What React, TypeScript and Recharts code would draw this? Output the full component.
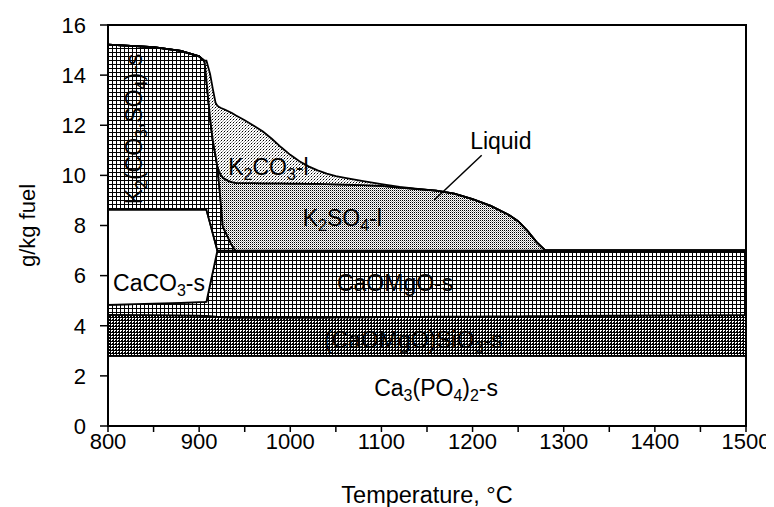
import { Area, AreaChart, ReferenceArea, ReferenceDot, ReferenceLine, XAxis, YAxis } from "recharts"

// temperature grid, °C
const temps = [
  800, 850, 880, 900, 906, 908, 912, 915, 918, 920, 922, 924, 926, 928, 932, 936, 940, 950, 960, 970, 980, 990,
  1000, 1010, 1020, 1030, 1040, 1050, 1060, 1080, 1100, 1120, 1140, 1160, 1180, 1200, 1220, 1240, 1250, 1260,
  1270, 1280, 1300, 1400, 1500,
]

// cumulative upper edge of each phase, g/kg fuel (bottom to top)
const ca3po42Top = temps.map(() => 2.8)
const silicateTop = [
  4.43, 4.42, 4.41, 4.4, 4.39, 4.39, 4.38, 4.37, 4.36, 4.35, 4.35, 4.35, 4.34, 4.34, 4.34, 4.33, 4.33, 4.33, 4.33,
  4.33, 4.33, 4.33, 4.33, 4.33, 4.33, 4.33, 4.33, 4.34, 4.34, 4.34, 4.35, 4.35, 4.35, 4.36, 4.36, 4.36, 4.37, 4.37,
  4.37, 4.38, 4.38, 4.38, 4.39, 4.41, 4.42,
]
const caoMgoTop = [
  4.83, 4.88, 4.91, 4.94, 4.95, 4.96, 5.64, 6.15, 6.66, 7, 7, 7, 7, 7, 7, 7, 7, 7, 7, 7, 7, 7, 7, 7, 7, 7, 7, 7, 7,
  7, 7, 7, 7, 7, 7, 7, 7, 7, 7, 7, 7, 7, 7, 7, 7,
]
const caco3Top = [
  8.63, 8.63, 8.63, 8.63, 8.63, 8.63, 8.09, 7.68, 7.27, 7, 7, 7, 7, 7, 7, 7, 7, 7, 7, 7, 7, 7, 7, 7, 7, 7, 7, 7, 7,
  7, 7, 7, 7, 7, 7, 7, 7, 7, 7, 7, 7, 7, 7, 7, 7,
]
const kSolidTop = [
  15.22, 15.12, 14.97, 14.75, 14.55, 13.8, 12.3, 11.4, 10.8, 10.35, 9.6, 8.8, 7.95, 7.8, 7.5, 7.2, 7, 7, 7, 7, 7, 7,
  7, 7, 7, 7, 7, 7, 7, 7, 7, 7, 7, 7, 7, 7, 7, 7, 7, 7, 7, 7, 7, 7, 7,
]
const k2so4Top = [
  15.22, 15.12, 14.97, 14.75, 14.55, 13.8, 12.3, 11.4, 10.8, 10.35, 10.15, 10.0, 9.92, 9.86, 9.78, 9.73, 9.7, 9.69,
  9.69, 9.68, 9.68, 9.68, 9.67, 9.67, 9.66, 9.66, 9.65, 9.64, 9.63, 9.61, 9.58, 9.51, 9.45, 9.39, 9.27, 9.05, 8.78,
  8.42, 8.17, 7.8, 7.35, 7, 7, 7, 7,
]
const k2co3Top = [
  15.22, 15.12, 14.97, 14.75, 14.58, 14.58, 14.05, 13.45, 12.9, 12.78, 12.73, 12.69, 12.66, 12.63, 12.56, 12.49,
  12.4, 12.2, 11.98, 11.75, 11.45, 11.12, 10.82, 10.56, 10.36, 10.2, 10.07, 9.97, 9.9, 9.77, 9.65, 9.54, 9.46, 9.39,
  9.27, 9.05, 8.78, 8.42, 8.17, 7.8, 7.35, 7, 7, 7, 7,
]

const xTicks = [800, 850, 900, 950, 1000, 1050, 1100, 1150, 1200, 1250, 1300, 1350, 1400, 1450, 1500]
const yTicks = [0, 2, 4, 6, 8, 10, 12, 14, 16]

const rows = temps.map((t, i) => ({
  t,
  ca3po42: [0, ca3po42Top[i]],
  silicate: [ca3po42Top[i], silicateTop[i]],
  caoMgo: [silicateTop[i], caoMgoTop[i]],
  caco3: [caoMgoTop[i], caco3Top[i]],
  kSolid: [caco3Top[i], kSolidTop[i]],
  k2so4: [kSolidTop[i], k2so4Top[i]],
  k2co3: [k2so4Top[i], k2co3Top[i]],
}))

const series = [
  { key: "ca3po42", fill: "#fff" },
  { key: "silicate", fill: "url(#pDark)" },
  { key: "caoMgo", fill: "url(#pMed)" },
  { key: "caco3", fill: "#fff" },
  { key: "kSolid", fill: "url(#pMed)" },
  { key: "k2so4", fill: "url(#pSo4)" },
  { key: "k2co3", fill: "url(#pCo3)" },
]

// "_x" marks a subscript character
const regionLabels = [
  { text: "Ca_3(PO_4)_2-s", t: 1160, v: 1.52, angle: 0 },
  { text: "(CaOMgO)SiO_3-s", t: 1135, v: 3.45, angle: 0 },
  { text: "CaOMgO-s", t: 1115, v: 5.7, angle: 0 },
  { text: "CaCO_3-s", t: 856, v: 5.7, angle: 0 },
  { text: "K_2SO_4-l", t: 1057, v: 8.3, angle: 0 },
  { text: "K_2CO_3-l", t: 976, v: 10.33, angle: 0 },
  { text: "K_2(CO_3,SO_4)-s", t: 829, v: 11.85, angle: -90 },
  { text: "Liquid", t: 1231, v: 11.37, angle: 0 },
]

const FONT = "'Liberation Sans', Arial, sans-serif"

function subText(text: string) {
  const parts = text.split(/(_.)/).filter((p) => p !== "")
  let shift = 0
  return parts.map((p, i) => {
    if (p.startsWith("_")) {
      const dy = 5 - shift
      shift = 5
      return (
        <tspan key={i} dy={dy} fontSize={16}>
          {p.slice(1)}
        </tspan>
      )
    }
    const dy = -shift
    shift = 0
    return (
      <tspan key={i} dy={dy}>
        {p}
      </tspan>
    )
  })
}

function makeLabel(text: string, angle: number) {
  return (props: any) => {
    const vb = props.viewBox || {}
    const cx = vb.x + (vb.width || 0) / 2
    const cy = vb.y + (vb.height || 0) / 2
    return (
      <text
        x={cx}
        y={cy + 8}
        textAnchor="middle"
        fontSize={23}
        fontFamily={FONT}
        fill="#000"
        transform={angle ? `rotate(${angle}, ${cx}, ${cy})` : undefined}
      >
        {subText(text)}
      </text>
    )
  }
}

export default function App() {
  return (
    <div style={{ fontFamily: FONT }}>
      <AreaChart width={766} height={499} data={rows} margin={{ top: 17, right: 28, left: 0, bottom: 0 }}>
        <defs>
          <pattern id="pDark" width="3" height="3" patternUnits="userSpaceOnUse">
            <rect width="3" height="3" fill="#000" shapeRendering="crispEdges" />
            <rect x="1" y="1" width="2" height="1" fill="#fff" shapeRendering="crispEdges" />
            <rect x="1" y="2" width="1" height="1" fill="#fff" shapeRendering="crispEdges" />
          </pattern>
          <pattern id="pMed" width="4" height="4" patternUnits="userSpaceOnUse">
            <rect width="4" height="4" fill="#fff" shapeRendering="crispEdges" />
            <rect width="4" height="1" fill="#000" shapeRendering="crispEdges" />
            <rect width="1" height="4" fill="#000" shapeRendering="crispEdges" />
          </pattern>
          <pattern id="pSo4" width="2" height="2" patternUnits="userSpaceOnUse">
            <rect width="2" height="2" fill="#fff" shapeRendering="crispEdges" />
            <rect width="1" height="1" fill="#000" shapeRendering="crispEdges" />
            <rect x="1" y="1" width="1" height="1" fill="#aaa" shapeRendering="crispEdges" />
          </pattern>
          <pattern id="pCo3" width="3" height="3" patternUnits="userSpaceOnUse">
            <rect width="3" height="3" fill="#fff" shapeRendering="crispEdges" />
            <rect width="1" height="1" fill="#000" shapeRendering="crispEdges" />
            <rect x="2" y="1" width="1" height="1" fill="#999" shapeRendering="crispEdges" />
            <rect x="1" y="2" width="1" height="1" fill="#999" shapeRendering="crispEdges" />
          </pattern>
        </defs>
        <XAxis
          dataKey="t"
          type="number"
          domain={[800, 1500]}
          ticks={xTicks}
          tickFormatter={(v: number) => (v % 100 === 0 ? String(v) : "")}
          height={81}
          tickSize={6}
          tickMargin={1}
          axisLine={{ stroke: "#000", strokeWidth: 2 }}
          tickLine={{ stroke: "#000", strokeWidth: 1.5 }}
          tick={{ fill: "#000", fontSize: 22, fontFamily: FONT }}
          label={{ value: "Temperature, °C", position: "insideBottom", offset: 4, fill: "#000", fontSize: 23.5 }}
        />
        <YAxis
          type="number"
          domain={[0, 16]}
          ticks={yTicks}
          width={100}
          tickSize={8}
          tickMargin={14}
          axisLine={{ stroke: "#000", strokeWidth: 2 }}
          tickLine={{ stroke: "#000", strokeWidth: 1.5 }}
          tick={{ fill: "#000", fontSize: 22, fontFamily: FONT }}
          label={{
            value: "g/kg fuel",
            angle: -90,
            position: "insideLeft",
            offset: 19,
            fill: "#000",
            fontSize: 22,
            style: { textAnchor: "middle" },
          }}
        />
        {series.map((s) => (
          <Area
            key={s.key}
            type="linear"
            dataKey={s.key}
            fill={s.fill}
            fillOpacity={1}
            stroke="#000"
            strokeWidth={1.8}
            dot={false}
            activeDot={false}
            isAnimationActive={false}
          />
        ))}
        <ReferenceLine
          segment={[
            { x: 1210, y: 10.8 },
            { x: 1158, y: 9.02 },
          ]}
          stroke="#000"
          strokeWidth={1.5}
        />
        {regionLabels.map((l) => (
          <ReferenceDot
            key={l.text}
            x={l.t}
            y={l.v}
            r={0}
            fill="none"
            stroke="none"
            label={makeLabel(l.text, l.angle)}
          />
        ))}
        <ReferenceArea x1={800} x2={1500} y1={0} y2={16} fill="none" stroke="#000" strokeWidth={2} />
      </AreaChart>
    </div>
  )
}
